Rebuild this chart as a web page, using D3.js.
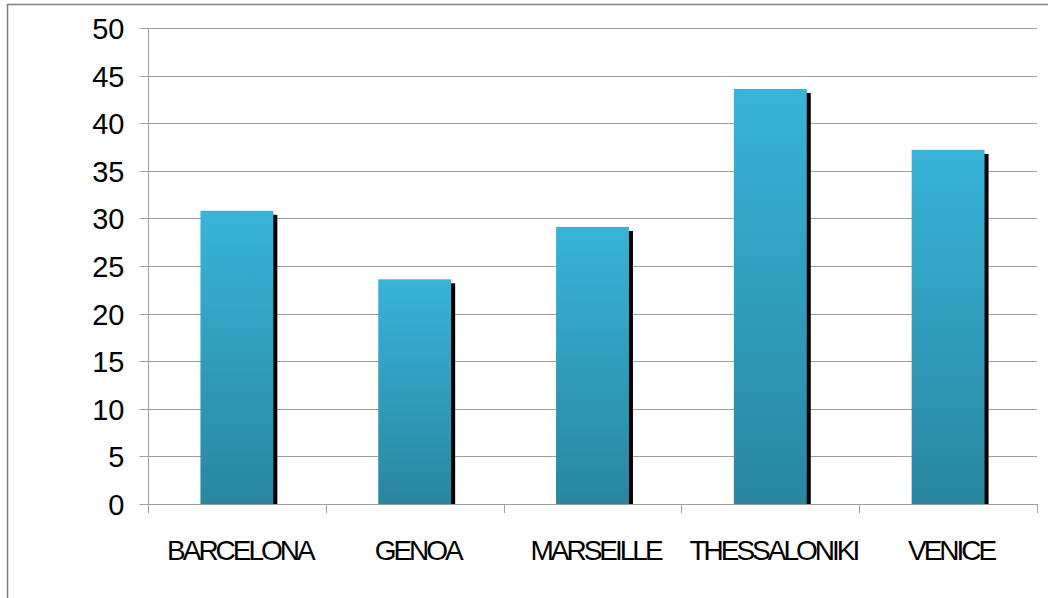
<!DOCTYPE html>
<html><head><meta charset="utf-8">
<script src="https://cdn.jsdelivr.net/npm/d3@7"></script>
<style>body{margin:0;background:#fff}svg{display:block}</style>
</head><body>
<script>
const categories = ["BARCELONA","GENOA","MARSEILLE","THESSALONIKI","VENICE"];
const values = [30.8, 23.6, 29.1, 43.6, 37.2];
const yTicks = [0,5,10,15,20,25,30,35,40,45,50];

(function(){
const W = 1048, H = 598;
const pL = 148, pR = 1037, pT = 28, pB = 504;
const svg = d3.select("body").append("svg").attr("width", W).attr("height", H);

const defs = svg.append("defs");
const grad = defs.append("linearGradient").attr("id","bg").attr("x1",0).attr("y1",0).attr("x2",0).attr("y2",1);
grad.append("stop").attr("offset","0%").attr("stop-color","#38b4d8");
grad.append("stop").attr("offset","100%").attr("stop-color","#2986a0");

// outer border
svg.append("rect").attr("x",7.5).attr("y",4.5).attr("width",W+10).attr("height",H+10)
  .attr("fill","none").attr("stroke","#808080").attr("stroke-width",1.5);

const x = d3.scaleBand().domain(categories).range([pL,pR]).paddingInner(0.59).paddingOuter(0.295);
const y = d3.scaleLinear().domain([0,50]).range([pB,pT]);

// gridlines
svg.append("g").selectAll("line").data(yTicks).join("line")
  .attr("x1",pL).attr("x2",pR).attr("y1",d=>Math.round(y(d))+0.5).attr("y2",d=>Math.round(y(d))+0.5)
  .attr("stroke","#a0a0a0").attr("stroke-width",1);

// y axis
const yAxis = d3.axisLeft(y).tickValues(yTicks).tickSize(9).tickPadding(15);
const gy = svg.append("g").attr("transform",`translate(${pL+0.5},0)`).call(yAxis);
gy.select(".domain").attr("stroke","#a0a0a0").attr("d",`M0,${pT}V${pB}`);
gy.selectAll(".tick line").attr("stroke","#a0a0a0");
gy.selectAll(".tick").attr("transform",d=>`translate(0,${Math.round(y(d))+0.5})`);
gy.selectAll("text").attr("font-family","'Liberation Sans', Arial, sans-serif").attr("font-size",29).attr("fill","#000").attr("dy","0.35em");

// x axis baseline and category ticks
const step = x.step();
const bounds = d3.range(categories.length+1).map(i => pL + i*step);
svg.append("line").attr("x1",pL).attr("x2",pR).attr("y1",pB+0.5).attr("y2",pB+0.5).attr("stroke","#a0a0a0");
svg.append("g").selectAll("line").data(bounds).join("line")
  .attr("x1",d=>Math.round(d)+0.5).attr("x2",d=>Math.round(d)+0.5).attr("y1",pB).attr("y2",pB+9)
  .attr("stroke","#a0a0a0");

// shadows
svg.append("g").selectAll("rect").data(values).join("rect")
  .attr("x",(d,i)=>x(categories[i])+4).attr("y",d=>y(d)+4)
  .attr("width",x.bandwidth()).attr("height",d=>pB-y(d)-4).attr("fill","#000");
// bars
svg.append("g").selectAll("rect").data(values).join("rect")
  .attr("x",(d,i)=>x(categories[i])).attr("y",d=>y(d))
  .attr("width",x.bandwidth()).attr("height",d=>pB-y(d)).attr("fill","url(#bg)");

// category labels
svg.append("g").selectAll("text").data(categories).join("text")
  .attr("x",d=>x(d)+x.bandwidth()/2+3).attr("y",560)
  .attr("text-anchor","middle").attr("font-family","'Liberation Sans', Arial, sans-serif")
  .attr("font-size",28).attr("letter-spacing","-3px").attr("fill","#000").text(d=>d);
})();
</script>
</body></html>
